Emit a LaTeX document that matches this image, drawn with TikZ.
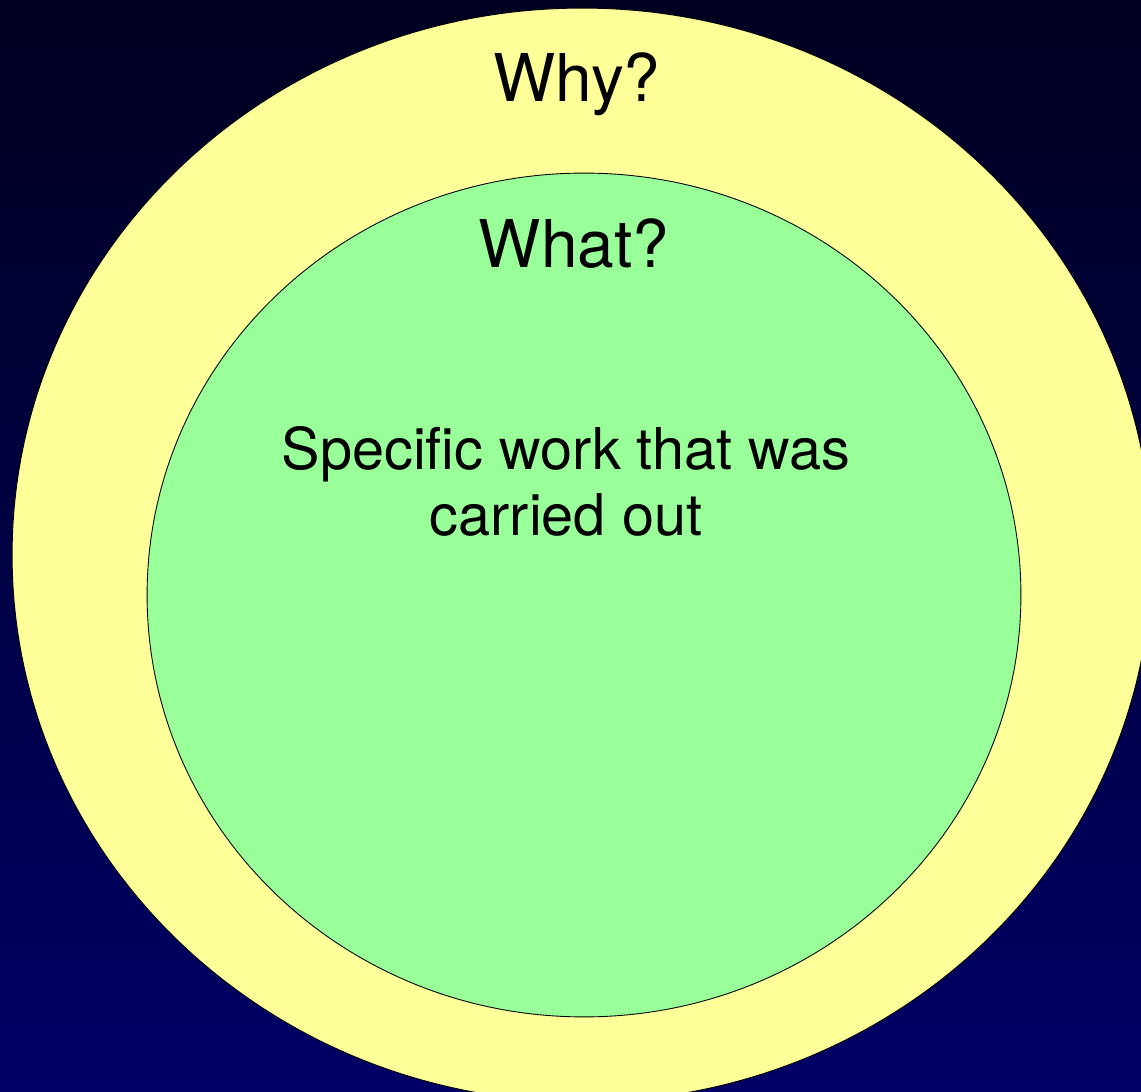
\documentclass[tikz,border=0pt]{standalone}
\usepackage{fontspec}
\setmainfont{TeX Gyre Heros}
\usepackage{tikz}
\usetikzlibrary{shapes,positioning,calc}
\definecolor{skytop}{HTML}{000020}
\definecolor{skybottom}{HTML}{000066}
\definecolor{whyfill}{HTML}{FFFF99}
\definecolor{whatfill}{HTML}{99FF99}
\tikzset{
    ring/.style={ellipse, draw=black, line width=0.5pt, inner sep=0pt},
    head/.style={anchor=base, font=\fontsize{37.5}{45}\selectfont},
    body/.style={anchor=base, align=center, font=\fontsize{32.8}{38}\selectfont}
}

\begin{document}
\begin{tikzpicture}[x=0.02cm, y=0.02cm]
    \useasboundingbox (0,0) rectangle (1141,1091);
    \clip (0,0) rectangle (1141,1091);
    \shade[top color=skytop, bottom color=skybottom] (0,0) rectangle (1141,1091);

    \node[ring, fill=whyfill, minimum width=22.8cm, minimum height=21.88cm] (why) at (582,536) {};
    \node[ring, fill=whatfill, minimum width=17.48cm, minimum height=16.88cm] (what) at (584,496) {};

    \node[head] (why-label) at (577,989) {Why?};
    \node[head] (what-label) at (574,823) {What?};
    \node[body] (what-text) at (566,555) {Specific work that was\\carried out};
\end{tikzpicture}
\end{document}
